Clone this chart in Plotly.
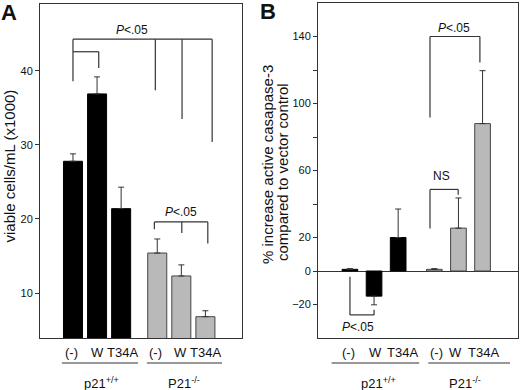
import plotly.graph_objects as go

# ---------------- data ----------------
conditions = ["(-)", "W", "T34A"]
groups = ["p21<sup>+/+</sup>", "P21<sup>-/-</sup>"]

viable_wt = [27.8, 36.9, 21.4]
viable_wt_err = [1.0, 2.3, 2.9]
viable_ko = [15.4, 12.3, 6.8]
viable_ko_err = [1.9, 1.5, 0.8]

casp_wt = [1.0, -15.0, 20.0]
casp_wt_err = [0.4, 5.2, 17.0]
casp_ko = [1.0, 25.6, 88.0]
casp_ko_err = [0.4, 18.0, 31.6]

yticks_a = [10, 20, 30, 40]
yticks_b = [-20, 0, 20, 60, 100, 140]
yticks_b_minor = [40, 80, 120]

# ---------------- layout helpers ----------------
pos_wt = [0, 1, 2]
pos_ko = [3.5, 4.5, 5.5]
FONT = "Liberation Sans, Arial, sans-serif"
LINE = "#333333"
GRAY = "#b9b9b9"


def err(vals, e):
    plus = [x if v >= 0 else 0 for v, x in zip(vals, e)]
    minus = [x if v < 0 else 0 for v, x in zip(vals, e)]
    return dict(type="data", symmetric=False, array=plus, arrayminus=minus,
                color=LINE, thickness=1, width=3)


fig = go.Figure()

# Panel A
fig.add_trace(go.Bar(x=pos_wt, y=viable_wt, width=0.79, marker=dict(color="black", line=dict(color="black", width=1)),
                     error_y=err(viable_wt, viable_wt_err), xaxis="x", yaxis="y", showlegend=False))
fig.add_trace(go.Bar(x=pos_ko, y=viable_ko, width=0.79, marker=dict(color=GRAY, line=dict(color="#444", width=1)),
                     error_y=err(viable_ko, viable_ko_err), xaxis="x", yaxis="y", showlegend=False))
# Panel B
fig.add_trace(go.Bar(x=pos_wt, y=casp_wt, width=0.65, marker=dict(color="black", line=dict(color="black", width=1)),
                     error_y=err(casp_wt, casp_wt_err), xaxis="x2", yaxis="y2", showlegend=False))
fig.add_trace(go.Bar(x=pos_ko, y=casp_ko, width=0.65, marker=dict(color=GRAY, line=dict(color="#444", width=1)),
                     error_y=err(casp_ko, casp_ko_err), xaxis="x2", yaxis="y2", showlegend=False))

shapes = []
annotations = []


def seg(xr, yr, x0, y0, x1, y1):
    shapes.append(dict(type="line", xref=xr, yref=yr, x0=x0, y0=y0, x1=x1, y1=y1,
                       line=dict(color=LINE, width=1.2)))


def txt(xr, yr, x, y, t, size=12, **kw):
    annotations.append(dict(xref=xr, yref=yr, x=x, y=y, text=t, showarrow=False,
                            font=dict(family=FONT, size=size, color="#111"), **kw))


PT = "<i>P</i>&lt;.05"

# Panel A brackets
seg("x", "y", 0, 44.3, 5.78, 44.3)
seg("x", "y", 0, 44.3, 0, 38.6)
seg("x", "y", 3.42, 44.3, 3.42, 37.4)
seg("x", "y", 4.53, 44.3, 4.53, 33.5)
seg("x", "y", 5.78, 44.3, 5.78, 30.4)
seg("x", "y", 0, 42.6, 1.07, 42.6)
seg("x", "y", 1.07, 42.6, 1.07, 40.4)
txt("x", "y", 2.45, 45.6, PT)
seg("x", "y", 3.38, 19.6, 5.6, 19.6)
seg("x", "y", 3.38, 19.6, 3.38, 18.6)
seg("x", "y", 4.52, 19.6, 4.52, 18.1)
seg("x", "y", 5.6, 19.6, 5.6, 16.7)
txt("x", "y", 4.5, 20.9, PT)

# Panel B brackets
seg("x2", "y2", 3.32, 140, 5.39, 140)
seg("x2", "y2", 3.32, 140, 3.32, 91.7)
seg("x2", "y2", 5.39, 140, 5.39, 124.5)
txt("x2", "y2", 4.32, 145, PT)
seg("x2", "y2", 3.32, 48.7, 4.49, 48.7)
seg("x2", "y2", 3.32, 48.7, 3.32, 25.4)
seg("x2", "y2", 4.49, 48.7, 4.49, 45.5)
txt("x2", "y2", 3.8, 56.5, "NS")
seg("x2", "y2", 0, -3.4, 0, -26.2)
seg("x2", "y2", 0, -26.2, 1.0, -26.2)
seg("x2", "y2", 1.0, -26.2, 1.0, -23.2)
txt("x2", "y2", 0.35, -33.5, PT)

# category labels, underlines, group labels
for xr, offs_wt, offs_ko, under, gpos in [
    ("x", [-0.05, 1.0, 2.05], [3.41, 4.45, 5.5], [(-0.46, 2.70), (3.07, 6.19)], [1.19, 4.6]),
    ("x2", [-0.06, 1.06, 2.16], [3.58, 4.39, 5.52], [(-0.76, 2.87), (3.25, 6.64)], [1.19, 4.77]),
]:
    for p, c in zip(offs_wt + offs_ko, conditions + conditions):
        txt(xr, "paper", p, 1 - 352 / 390, c, size=13, yanchor="middle")
    for (a, b) in under:
        seg(xr, "paper", a, 1 - 363 / 390, b, 1 - 363 / 390)
    for g, gp in zip(groups, gpos):
        txt(xr, "paper", gp, 1 - 383 / 390, g, size=13, yanchor="middle")

# axis titles and panel letters (pixel-placed via paper coords)
W, H = 520, 390
txt("paper", "paper", 8.5 / W, 1 - 166 / H, "viable cells/mL (x1000)", size=15, textangle=-90,
    xanchor="center", yanchor="middle")
txt("paper", "paper", 267 / W, 1 - 165 / H, "% increase active casapase-3", size=15, textangle=-90,
    xanchor="center", yanchor="middle")
txt("paper", "paper", 282 / W, 1 - 172 / H, "compared to vector control", size=15, textangle=-90,
    xanchor="center", yanchor="middle")
txt("paper", "paper", 8.5 / W, 1 - 12 / H, "<b>A</b>", size=22, xanchor="center", yanchor="middle")
txt("paper", "paper", 268 / W, 1 - 11 / H, "<b>B</b>", size=22, xanchor="center", yanchor="middle")

axis_common = dict(showline=True, mirror=True, linecolor=LINE, linewidth=1, showgrid=False)

fig.update_layout(
    width=W, height=H,
    margin=dict(l=0, r=0, t=0, b=0),
    paper_bgcolor="white", plot_bgcolor="white",
    font=dict(family=FONT, color="#111"),
    barmode="overlay",
    xaxis=dict(domain=[40 / W, 242 / W], range=[-1.37, 7.02], showticklabels=False, ticks="",
               zeroline=False, anchor="y", **axis_common),
    yaxis=dict(domain=[1 - 338 / H, 1 - 4 / H], range=[3.92, 49.05], tickvals=yticks_a,
               ticks="outside", ticklen=4, tickcolor=LINE, tickfont=dict(size=11), zeroline=False,
               anchor="x", **axis_common),
    xaxis2=dict(domain=[318 / W, 518 / W], range=[-1.325, 6.97], showticklabels=False, ticks="",
                zeroline=False, anchor="y2", **axis_common),
    yaxis2=dict(domain=[1 - 338 / H, 1 - 3 / H], range=[-40, 160], tickvals=yticks_b,
                ticks="outside", ticklen=4, tickcolor=LINE,
                minor=dict(tickvals=yticks_b_minor, ticks="outside", ticklen=4, tickcolor=LINE, showgrid=False),
                tickfont=dict(size=11), zeroline=True, zerolinecolor=LINE, zerolinewidth=1,
                anchor="x2", **axis_common),
    shapes=shapes,
    annotations=annotations,
)

fig.write_html("out.html", config={"displayModeBar": False},
               post_script="document.body.style.margin='0px';document.body.style.overflow='hidden';")
